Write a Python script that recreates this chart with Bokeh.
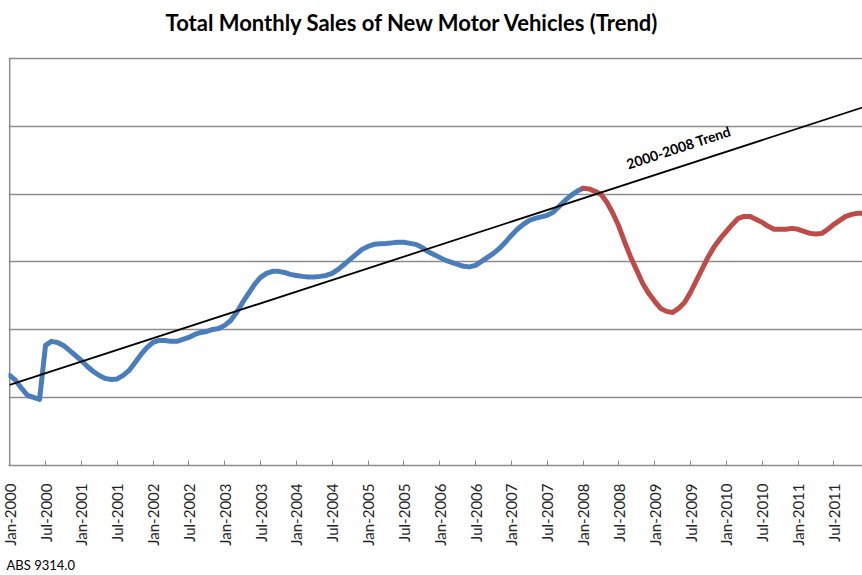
import math
from bokeh.plotting import figure
from bokeh.models import Range1d, FixedTicker, Label, LinearAxis
from bokeh.embed import file_html
from bokeh.resources import INLINE

# ---- data (month index 0 = Jan-2000) ----
months_blue = list(range(0, 97))
sales_blue = [
    66640, 66270, 65680, 65160, 65020, 64870, 68850, 69150, 69070, 68850,
    68480, 68110, 67740, 67300, 66930, 66640, 66420, 66340, 66380, 66640,
    67010, 67600, 68190, 68700, 69070, 69220, 69220, 69150, 69150, 69290,
    69440, 69660, 69810, 69880, 70030, 70100, 70330, 70690, 71280, 72020,
    72690, 73350, 73870, 74160, 74310, 74310, 74230, 74090, 74010, 73940,
    73900, 73900, 73940, 74010, 74160, 74460, 74820, 75190, 75560, 75930,
    76150, 76300, 76340, 76370, 76410, 76450, 76450, 76370, 76300, 76080,
    75780, 75560, 75340, 75120, 74970, 74820, 74680, 74640, 74750, 75050,
    75340, 75640, 76000, 76450, 76960, 77410, 77770, 78070, 78220, 78330,
    78440, 78660, 79100, 79540, 79910, 80210, 80430,
]
months_red = list(range(96, 144))
sales_red = [
    80430, 80390, 80210, 79990, 79400, 78590, 77630, 76450, 75340, 74380,
    73420, 72690, 72100, 71580, 71360, 71280, 71580, 72020, 72760, 73640,
    74530, 75410, 76150, 76740, 77260, 77770, 78220, 78360, 78360, 78140,
    77920, 77630, 77410, 77410, 77410, 77480, 77410, 77260, 77110, 77070,
    77110, 77410, 77770, 78070, 78360, 78510, 78590, 78590,
]
trend_months = [0, 143]
trend_values = [65940, 86420]

tick_months = list(range(0, 139, 6))
tick_labels = [
    "Jan-2000", "Jul-2000", "Jan-2001", "Jul-2001", "Jan-2002", "Jul-2002",
    "Jan-2003", "Jul-2003", "Jan-2004", "Jul-2004", "Jan-2005", "Jul-2005",
    "Jan-2006", "Jul-2006", "Jan-2007", "Jul-2007", "Jan-2008", "Jul-2008",
    "Jan-2009", "Jul-2009", "Jan-2010", "Jul-2010", "Jan-2011", "Jul-2011",
]
grid_values = [60000, 65000, 70000, 75000, 80000, 85000, 90000]

title_text = "Total Monthly Sales of New Motor Vehicles (Trend)"
trend_text = "2000-2008 Trend"
source_text = "ABS 9314.0"

FONT = "Lato"
GRID = "#8c8c8c"

x_start, x_end = -0.2, 142.8
y_start, y_end = 60000, 94275   # headroom above the top gridline holds the title

p = figure(width=862, height=575, output_backend="svg", toolbar_location=None,
           x_range=Range1d(x_start, x_end), y_range=Range1d(y_start, y_end),
           min_border_left=8, min_border_right=0, min_border_top=0,
           min_border_bottom=110)
p.outline_line_color = None
p.background_fill_color = "white"

p.yaxis.visible = False
p.xgrid.visible = False
p.ygrid.ticker = FixedTicker(ticks=grid_values)
p.ygrid.grid_line_color = GRID
p.ygrid.grid_line_width = 1.3

ax = p.xaxis[0]
ax.ticker = FixedTicker(ticks=tick_months)
ax.major_label_overrides = {m: lab for m, lab in zip(tick_months, tick_labels)}
ax.major_label_orientation = math.pi / 2
ax.major_tick_in = 5
ax.major_tick_out = 0
ax.major_tick_line_color = GRID
ax.minor_tick_line_color = None
ax.axis_line_color = GRID
ax.axis_line_width = 1.5
ax.major_label_standoff = 18
ax.axis_label_standoff = 0
ax.major_label_text_font = FONT
ax.major_label_text_font_size = "15px"
ax.major_label_text_color = "#222222"

# source note, set as a single-label axis below the date axis
src_pos = 5.2
src_axis = LinearAxis(ticker=FixedTicker(ticks=[src_pos]),
                      major_label_overrides={src_pos: source_text},
                      axis_line_color=None, major_tick_line_color=None,
                      minor_tick_line_color=None, major_label_standoff=2,
                      axis_label_standoff=0,
                      major_label_text_font=FONT, major_label_text_font_size="13px",
                      major_label_text_color="black")
p.add_layout(src_axis, "below")

# vertical axis line, from the bottom to the top gridline
p.line([tick_months[0], tick_months[0]], [grid_values[0], grid_values[-1]],
       line_color=GRID, line_width=1.5)

p.line(months_blue, sales_blue, line_width=5, line_color="#4a7ebb", line_join="round", line_cap="round")
p.line(months_red, sales_red, line_width=5, line_color="#be4b48", line_join="round", line_cap="round")
p.line(trend_months, trend_values, line_width=1.8, line_color="black")

p.add_layout(Label(x=112, y=83450, text=trend_text, angle=0.318, text_align="center",
                   text_baseline="middle", text_font=FONT, text_font_style="bold",
                   text_font_size="14px", text_color="black"))
p.add_layout(Label(x=67.5, y=92650, text=title_text, text_align="center",
                   text_baseline="middle", text_font=FONT, text_font_style="bold",
                   text_font_size="22px", text_color="black"))

open("out.html", "w").write(file_html(p, INLINE))
